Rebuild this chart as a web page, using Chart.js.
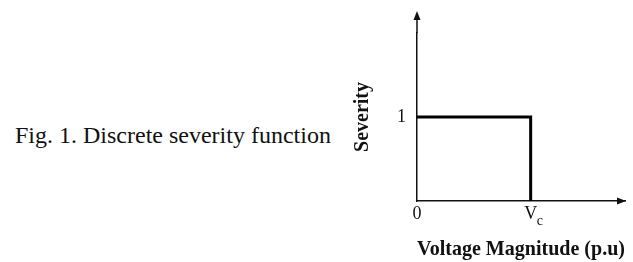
<!DOCTYPE html>
<html>
<head>
<meta charset="utf-8">
<script src="https://cdn.jsdelivr.net/npm/chart.js@4.4.1/dist/chart.umd.min.js"></script>
<style>
    html, body { margin: 0; padding: 0; background: #fff; }
    body { width: 633px; height: 262px; position: relative; overflow: hidden; }
    #caption {
        position: absolute; left: 15px; top: 123px;
        font-family: 'Liberation Serif', 'Times New Roman', serif;
        font-size: 24px; line-height: 24px; color: #111; white-space: nowrap;
    }
    #wrap { position: absolute; left: 340px; top: 0; width: 293px; height: 262px; }
</style>
</head>
<body>
<div id="caption">Fig. 1. Discrete severity function</div>
<div id="wrap"><canvas id="chart"></canvas></div>
<script>
    // step function: severity is 1 up to Vc, then drops to 0
    var xValues = [0, 1, 1];
    var yValues = [1, 1, 0];
    var xTicks = [0, 1];
    var xTickLabels = ['0', 'V'];
    var xTickSubs = ['', 'c'];
    var yTicks = [1];
    var yTickLabels = ['1'];
    var xTitle = 'Voltage Magnitude (p.u)';
    var yTitle = 'Severity';

    var serif = "'Liberation Serif', 'Times New Roman', serif";

    var points = xValues.map(function (x, i) { return { x: x, y: yValues[i] }; });

    // arrow heads on both axes + subscript on tick labels
    var axisDecor = {
        id: 'axisDecor',
        afterDraw: function (chart) {
            var ctx = chart.ctx;
            var a = chart.chartArea;
            ctx.save();
            ctx.strokeStyle = '#111';
            ctx.fillStyle = '#111';
            ctx.lineWidth = 1.5;
            // y axis runs on above the plot area
            ctx.beginPath();
            ctx.moveTo(a.left, a.top);
            ctx.lineTo(a.left, 16);
            ctx.stroke();
            ctx.beginPath();
            ctx.moveTo(a.left, 11);
            ctx.lineTo(a.left - 3.5, 20);
            ctx.lineTo(a.left + 3.5, 20);
            ctx.closePath();
            ctx.fill();
            ctx.beginPath();
            ctx.moveTo(a.right + 1, a.bottom);
            ctx.lineTo(a.right - 8, a.bottom - 3.5);
            ctx.lineTo(a.right - 8, a.bottom + 3.5);
            ctx.closePath();
            ctx.fill();

            var sx = chart.scales.x;
            ctx.textBaseline = 'alphabetic';
            ctx.textAlign = 'left';
            xTicks.forEach(function (v, i) {
                if (!xTickSubs[i]) return;
                ctx.font = '18px ' + serif;
                var w = ctx.measureText(xTickLabels[i]).width;
                var px = sx.getPixelForValue(v);
                ctx.font = '14px ' + serif;
                ctx.fillText(xTickSubs[i], px + w / 2 - 0.5, 225);
            });
            ctx.restore();
        }
    };

    new Chart(document.getElementById('chart'), {
        type: 'line',
        data: {
            datasets: [{
                data: points,
                borderColor: '#000',
                borderWidth: 3,
                pointRadius: 0,
                tension: 0,
                fill: false,
                clip: false
            }]
        },
        options: {
            responsive: true,
            maintainAspectRatio: false,
            animation: false,
            layout: { padding: { top: 33, right: 8, left: 0, bottom: 0 } },
            plugins: { legend: { display: false }, tooltip: { enabled: false } },
            scales: {
                x: {
                    type: 'linear',
                    min: 0,
                    max: 1.83,
                    grid: { display: false, drawTicks: false },
                    border: { display: true, color: '#111', width: 1.5 },
                    afterBuildTicks: function (s) { s.ticks = xTicks.map(function (v) { return { value: v }; }); },
                    afterFit: function (s) { s.height = 61; },
                    ticks: {
                        autoSkip: false,
                        maxRotation: 0,
                        padding: 2,
                        color: '#111',
                        font: { family: serif, size: 18 },
                        callback: function (v) {
                            var i = xTicks.indexOf(v);
                            return i < 0 ? '' : xTickLabels[i];
                        }
                    },
                    title: {
                        display: true,
                        text: xTitle,
                        color: '#111',
                        padding: 0,
                        font: { family: serif, size: 21, weight: 'bold' }
                    }
                },
                y: {
                    type: 'linear',
                    min: 0,
                    max: 2,
                    grid: { display: false, drawTicks: false },
                    border: { display: true, color: '#111', width: 1.5 },
                    afterBuildTicks: function (s) { s.ticks = yTicks.map(function (v) { return { value: v }; }); },
                    afterFit: function (s) { s.width = 77; },
                    ticks: {
                        padding: 11,
                        color: '#111',
                        font: { family: serif, size: 18 },
                        callback: function (v) {
                            var i = yTicks.indexOf(v);
                            return i < 0 ? '' : yTickLabels[i];
                        }
                    },
                    title: {
                        display: true,
                        text: yTitle,
                        color: '#111',
                        padding: { top: 11, bottom: 0 },
                        font: { family: serif, size: 20, weight: 'bold' }
                    }
                }
            }
        },
        plugins: [axisDecor]
    });
</script>
</body>
</html>
